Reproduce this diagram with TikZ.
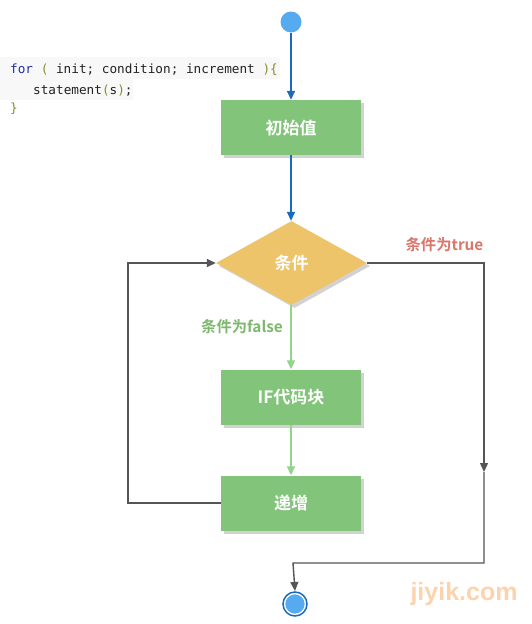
\documentclass[tikz,border=0pt]{standalone}
\usepackage{fontspec}
\setmonofont{DejaVu Sans Mono}
\newfontfamily\cjk{Noto Sans CJK SC}[BoldFont={Noto Sans CJK SC Bold}]
\newfontfamily\wmfont{Liberation Sans}
\usetikzlibrary{shapes.geometric,arrows.meta,shadows}
\definecolor{boxgreen}{HTML}{82C47A}
\definecolor{diagold}{HTML}{EDC46A}
\definecolor{startblue}{HTML}{55AAF0}
\definecolor{lineblue}{HTML}{1A6BBF}
\definecolor{linegreen}{HTML}{92D48C}
\definecolor{linegray}{HTML}{555555}
\definecolor{truered}{HTML}{D9776A}
\definecolor{falsegreen}{HTML}{7DB86E}
\definecolor{wmark}{HTML}{FDD3AE}
\definecolor{kwblue}{HTML}{1F2F9F}
\definecolor{olive}{HTML}{8B8B2B}
\definecolor{codegray}{HTML}{222222}
\definecolor{codebg}{HTML}{F8F8F8}
\begin{document}
\begin{tikzpicture}[x=1pt,y=-1pt,
  stepbox/.style={rectangle,fill=boxgreen,minimum width=140pt,minimum height=55pt,inner sep=0pt,
    text=white,font=\cjk\bfseries\fontsize{17}{19}\selectfont,
    drop shadow={shadow xshift=3pt,shadow yshift=-3pt,opacity=0.35,fill=gray}},
  decbox/.style={diamond,fill=diagold,aspect=1.8,minimum width=151pt,minimum height=84pt,inner sep=0pt,
    text=white,font=\cjk\bfseries\fontsize{17}{19}\selectfont,
    drop shadow={shadow xshift=3pt,shadow yshift=-3pt,opacity=0.35,fill=gray}},
  arrblue/.style={draw=lineblue,line width=1.6pt,-{Triangle[width=8pt,length=9pt]}},
  arrgreen/.style={draw=linegreen,line width=1.6pt,-{Triangle[width=8pt,length=9pt]}},
  arrgray/.style={draw=linegray,line width=1.4pt,-{Triangle[width=8pt,length=9pt]}},
  codetxt/.style={anchor=base west,inner sep=0pt,font=\ttfamily\fontsize{12.7}{14}\selectfont,text=codegray},
  lbl/.style={font=\cjk\bfseries\fontsize{15.3}{17}\selectfont,inner sep=0pt}
]
\useasboundingbox (0,0) rectangle (531,624);
\fill[white] (0,0) rectangle (531,624);
% code
\fill[codebg] (0,57) rectangle (280,79);
\fill[codebg] (0,79) rectangle (133,100);
\node[codetxt] (c1) at (10,73) {\textcolor{kwblue}{for} \textcolor{olive}{(} init; condition; increment \textcolor{olive}{)\{}};
\node[codetxt] (c2) at (33,94) {statement\textcolor{olive}{(}s\textcolor{olive}{)};};
\node[codetxt] (c3) at (10,112) {\textcolor{olive}{\}}};
% nodes
\node[circle,fill=startblue,minimum size=21pt,inner sep=0pt] (start) at (291,22) {};
\node[stepbox] (init) at (291,127.5) {初始值};
\node[decbox] (cond) at (291.5,263) {条件};
\node[stepbox] (body) at (291,397) {IF代码块};
\node[stepbox] (inc) at (291,503) {递增};
\node[circle,fill=startblue,draw=white,line width=1.5pt,minimum size=21pt,inner sep=0pt] (endn) at (295,604) {};
\draw[lineblue,line width=1.5pt] (endn) circle (12pt);
% labels
\node[lbl,text=truered] (tlab) at (444.5,245) {条件为true};
\node[lbl,text=falsegreen] (flab) at (242,327) {条件为false};
\node[font=\wmfont\bfseries\fontsize{25}{27}\selectfont,text=wmark,inner sep=0pt] (wm) at (464,594) {jiyik.com};
% connectors
\draw[arrblue] (start) -- (init);
\draw[arrblue] (init.south) -- (init.south |- cond.north);
\draw[arrgreen] (cond.south -| body.north) -- (body);
\draw[arrgreen] (body) -- (inc);
\coordinate (r1) at (484,263);
\coordinate (rm) at (484,472);
\coordinate (r2) at (484,563);
\coordinate (r3) at (293,563);
\coordinate (l1) at (128,503);
\coordinate (l2) at (128,263);
\draw[arrgray] (cond.east) -- (r1) -- (rm);
\draw[arrgray] (rm) -- (r2) -- (r3) -- (endn.north |- 0,591);
\draw[arrgray] (inc.west) -- (l1) -- (l2) -- (cond.west);
\end{tikzpicture}
\end{document}
